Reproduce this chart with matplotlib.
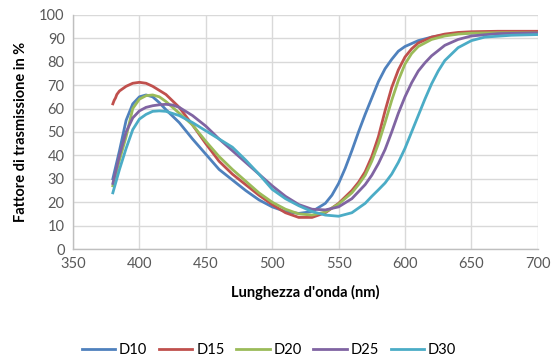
import matplotlib.pyplot as plt

plt.rcParams['font.family'] = ['Lato', 'DejaVu Sans']

# wavelengths (nm) and transmission (%)
wl_d10 = [380, 385, 390, 395, 400, 405, 410, 415, 420, 430, 440, 450, 460, 470, 480, 490, 500,
          510, 520, 530, 540, 545, 550, 555, 560, 565, 570, 575, 580, 585, 590, 595, 600, 610,
          620, 630, 640, 650, 670, 700]
d10 = [30, 42, 55, 62, 65, 65.8, 65, 62.5, 59.5, 54, 47, 40.5, 34, 29.5, 25, 21, 18,
       16, 15.2, 16, 19.5, 23, 28, 34.5, 42, 50, 57.5, 64.5, 71.5, 77, 81, 84.5, 86.5, 89,
       90.5, 91.5, 92, 92.3, 92.6, 92.8]

wl_d15 = [380, 381, 382, 383, 385, 390, 395, 400, 405, 410, 420, 430, 440, 450, 460, 470, 480,
          490, 500, 510, 520, 530, 540, 550, 560, 565, 570, 575, 580, 585, 590, 595, 600, 605,
          610, 620, 630, 640, 650, 670, 700]
d15 = [62, 63.5, 64.5, 66, 67.5, 69.5, 70.8, 71.2, 70.8, 69.5, 66, 60.5, 53, 45, 37.5, 32, 27.5,
       23, 19, 15.5, 13.5, 13.5, 15.5, 19.5, 25, 28.5, 33, 39.5, 48, 59, 69, 76.5, 82, 85.5,
       88, 90.5, 91.8, 92.5, 92.8, 93, 93]

wl_d20 = [380, 385, 390, 395, 400, 405, 410, 415, 420, 430, 440, 450, 460, 470, 480, 490, 500,
          510, 520, 530, 540, 550, 560, 565, 570, 575, 580, 585, 590, 595, 600, 605, 610, 620,
          630, 640, 650, 670, 700]
d20 = [27, 38, 48, 60, 64, 65.5, 65.8, 65, 63, 58, 53, 46, 39.5, 34, 29, 24, 20,
       17, 15, 14.5, 15.8, 19.2, 24, 27.5, 31.5, 37.5, 45, 54, 63.5, 72, 79, 83.5, 86.5, 89.5,
       91, 91.8, 92.2, 92.4, 92.3]

wl_d25 = [380, 385, 390, 395, 400, 405, 410, 415, 420, 425, 430, 440, 450, 460, 470, 480, 490,
          500, 510, 520, 530, 540, 550, 560, 570, 575, 580, 585, 590, 595, 600, 605, 610, 615,
          620, 630, 640, 650, 670, 700]
d25 = [28, 40, 50, 56, 59, 60.5, 61.2, 61.6, 61.8, 61.5, 60.5, 57, 52.5, 47, 42, 37, 32,
       27, 22.5, 19, 17, 16.7, 18, 21.5, 27.5, 31.5, 36.5, 42.5, 50, 58, 65, 71, 76, 79.5,
       82.5, 87, 89.5, 91, 92, 92.3]

wl_d30 = [380, 385, 390, 395, 400, 405, 410, 415, 420, 430, 440, 450, 460, 470, 480, 490, 500,
          510, 520, 530, 540, 550, 560, 570, 575, 580, 585, 590, 595, 600, 605, 610, 615, 620,
          625, 630, 640, 650, 660, 680, 700]
d30 = [24, 34, 43, 51, 55.5, 57.5, 58.8, 59, 58.8, 57, 54, 50.5, 47, 43.5, 38, 32, 25.5,
       21.5, 18.5, 16, 14.5, 14, 15.5, 19.5, 22.5, 25.3, 28.2, 32, 37, 43, 50, 57, 64, 70.5,
       76, 80.5, 86, 89, 90.5, 91.3, 91.6]

series = [("D10", wl_d10, d10, "#4F81BD"),
          ("D15", wl_d15, d15, "#C0504D"),
          ("D20", wl_d20, d20, "#9BBB59"),
          ("D25", wl_d25, d25, "#8064A2"),
          ("D30", wl_d30, d30, "#4BACC6")]

fig = plt.figure(figsize=(5.51, 3.63), dpi=100)
ax = fig.add_axes([0.1325, 0.314, 0.8435, 0.645])

for name, x, y, c in series:
    ax.plot(x, y, color=c, linewidth=2, label=name)

ax.set_xlim(350, 700)
ax.set_ylim(0, 100)
ax.set_xticks(range(350, 701, 50))
ax.set_yticks(range(0, 101, 10))
ax.grid(True, color="#D9D9D9", linewidth=1)
ax.set_axisbelow(True)
ax.tick_params(length=0, labelsize=10.5, labelcolor="#595959", pad=6)
for s in ["top", "right"]:
    ax.spines[s].set_visible(False)
for s in ["left", "bottom"]:
    ax.spines[s].set_color("#BFBFBF")
    ax.spines[s].set_linewidth(1)

ax.set_xlabel("Lunghezza d'onda (nm)", fontsize=10.5, fontweight="bold", labelpad=10)
ax.set_ylabel("Fattore di trasmissione in %", fontsize=10.5, fontweight="bold", labelpad=8)

fig.legend(loc="center", bbox_to_anchor=(0.488, 0.035), ncol=5, frameon=False,
           fontsize=10.5, handlelength=2.3, columnspacing=0.8, handletextpad=0.25)

fig.savefig("out.png", dpi=100)
